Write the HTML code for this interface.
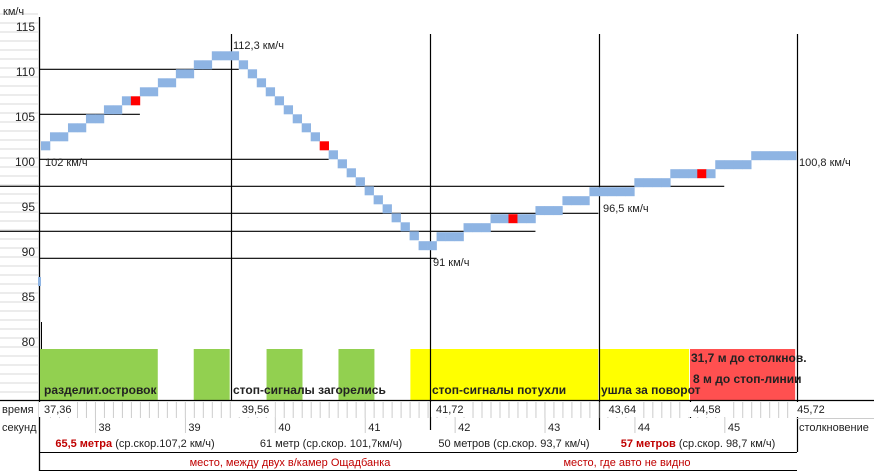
<!DOCTYPE html>
<html><head><meta charset="utf-8"><style>
body{margin:0;background:#fff}
svg{display:block;font-family:"Liberation Sans","DejaVu Sans",sans-serif}
</style></head><body>
<svg id="chart" width="874" height="471" viewBox="0 0 874 471" xmlns="http://www.w3.org/2000/svg">
<g id="grid"></g>
<g id="yaxis"></g>
<g id="bands"></g>
<g id="refs"></g>
<g id="bars"></g>
<g id="labels"></g>
<g id="table"></g>
</svg>
<script>
const yTicks=[115,110,105,100,95,90,85,80];
// speed per 0.1 s frame
const speeds=[101.8,102.8,102.8,103.8,103.8,104.8,104.8,105.8,105.8,106.8,106.8,107.8,107.8,108.8,108.8,109.8,109.8,110.8,110.8,111.8,111.8,111.8,
110.8,109.8,108.8,107.8,106.8,105.8,104.8,103.8,102.8,101.8,100.8,99.8,98.8,97.8,96.8,95.8,94.8,93.8,92.8,91.8,90.7,90.7,
91.7,91.7,91.7,92.7,92.7,92.7,93.7,93.7,93.7,93.7,93.7,94.6,94.6,94.6,95.7,95.7,95.7,96.7,96.7,96.7,96.7,96.7,97.7,97.7,97.7,97.7,
98.7,98.7,98.7,98.7,98.7,99.7,99.7,99.7,99.7,100.7,100.7,100.7,100.7,100.7];
const markerFrames=[10,31,52,73];
const refSpeeds=[110.8,105.8,100.8,97.8,94.8,92.8,89.8];
const refEndFrames=[22,11,32,76,62,55,44];
const keyTimes=["37,36","39,56","41,72","43,64","44,58","45,72"];
const keyFrames=[0,22,43.6,62.8,72.2,84];
const secLabels=["38","39","40","41","42","43","44","45"];
const secFrames=[6.4,16.4,26.4,36.4,46.4,56.4,66.4,76.4];
const bandStarts=[0,17.1,25.2,33.2,41.2,62.2,72.3];
const bandEnds=[13.1,21.1,29.2,37.2,62.1,72.2,84];
const bandColors=["#92d050","#92d050","#92d050","#92d050","#ffff00","#ffff00","#ff5050"];

const NS="http://www.w3.org/2000/svg";
const X0=41,FW=8.99;
const x=f=>X0+f*FW;
const y=v=>27+(115-v)*9;
function mk(parent,tag,attrs,text){const e=document.createElementNS(NS,tag);for(const k in attrs)e.setAttribute(k,attrs[k]);if(text!==undefined)e.textContent=text;document.getElementById(parent).appendChild(e);return e;}

// left gridlines
for(let gy=14;gy<400;gy+=9){const l=mk('grid','line',{x1:0,x2:38,y1:gy,y2:gy,stroke:'#d9d9d9','stroke-width':1});

}
let u=mk('yaxis','text',{x:3,y:15,'font-size':11,fill:'#222'},'км/ч');


yTicks.forEach(v=>{const t=mk('yaxis','text',{x:35,y:y(v)+4,'font-size':12,'text-anchor':'end',fill:'#222'},String(v));

});
mk('yaxis','line',{x1:39.5,x2:39.5,y1:17,y2:471,stroke:'#000','stroke-width':1.3});
mk('yaxis','line',{x1:41.5,x2:41.5,y1:322,y2:349,stroke:'#000','stroke-width':1});

// bands
bandStarts.forEach((s,i)=>{const r=mk('bands','rect',{x:x(s)-1,y:349,width:(bandEnds[i]-s)*FW,height:51,fill:bandColors[i]});

});
const bandText=[["разделит.островок",44,394],["стоп-сигналы загорелись",233,394],["стоп-сигналы потухли",432,394],["ушла за поворот",601,394],["31,7 м до столкнов.",691,362],["8 м до стоп-линии",693,383]];
bandText.forEach(b=>{const t=mk('bands','text',{x:b[1],y:b[2],'font-size':12,'font-weight':'bold',fill:'#222'},b[0]);

});

// vertical divider lines
[[231,34,400],[430,34,430],[599,34,430],[797,34,452],[690,400,418]].forEach(v=>{mk('refs','line',{x1:v[0]+.5,x2:v[0]+.5,y1:v[1],y2:v[2],stroke:'#000','stroke-width':1.2});});
// horizontal reference lines
refSpeeds.forEach((v,i)=>{const l=mk('refs','line',{x1:i===3||i===5?0:39,x2:x(refEndFrames[i]),y1:y(v)+4.5,y2:y(v)+4.5,stroke:'#000','stroke-width':1.2});

});

// bars
speeds.forEach((v,i)=>{const r=mk('bars','rect',{x:x(i),y:y(v)-4.5,width:FW+0.3,height:9,fill:markerFrames.includes(i)?'#ff0000':'#8eb4e3'});

});
mk('bars','rect',{x:38,y:277,width:3,height:9,fill:'#8eb4e3'});

// value labels
[["112,3 км/ч",233,49],["102 км/ч",45,166],["91 км/ч",433,266],["96,5 км/ч",603,212],["100,8 км/ч",799,166]].forEach(a=>{const t=mk('labels','text',{x:a[1],y:a[2],'font-size':11,fill:'#222'},a[0]);

});

// table
mk('table','line',{x1:0,x2:874,y1:400.5,y2:400.5,stroke:'#000','stroke-width':1.2});
mk('table','line',{x1:40,x2:797,y1:452.5,y2:452.5,stroke:'#000','stroke-width':1});
mk('table','line',{x1:40,x2:797,y1:470.5,y2:470.5,stroke:'#000','stroke-width':1});
mk('table','line',{x1:797,x2:874,y1:418.5,y2:418.5,stroke:'#ccc','stroke-width':1});
for(let f=1;f<84;f+=1){mk('table','line',{x1:x(f)+.5,x2:x(f)+.5,y1:402,y2:418,stroke:'#ccc','stroke-width':1});}
let t1=mk('table','text',{x:2,y:413,'font-size':11,fill:'#222'},'время');


let t2=mk('table','text',{x:2,y:431,'font-size':11,fill:'#222'},'секунд');


keyTimes.forEach((k,i)=>{const bg=mk('table','rect',{x:x(keyFrames[i])-2,y:402,width:38,height:15,fill:'#fff'});
const t=mk('table','text',{x:x(keyFrames[i])+(i===5?1:3),y:413,'font-size':11,fill:'#222'},k);

});
secLabels.forEach((s,i)=>{mk('table','line',{x1:x(secFrames[i])-3,x2:x(secFrames[i])-3,y1:418,y2:433,stroke:'#ccc'});
const t=mk('table','text',{x:x(secFrames[i]),y:431,'font-size':11,fill:'#222'},s);

});
let c=mk('table','text',{x:799,y:431,'font-size':11,fill:'#222'},'столкновение');


const segs=[["65,5 метра"," (ср.скор.107,2 км/ч)",135,true],["","61 метр (ср.скор. 101,7км/ч)",331,false],["","50 метров (ср.скор. 93,7 км/ч)",514,false],["57 метров"," (ср.скор. 98,7 км/ч)",698,true]];
segs.forEach(s=>{const t=mk('table','text',{x:s[2],y:447,'font-size':11,fill:'#222','text-anchor':'middle'});


if(s[0]){const a=document.createElementNS(NS,'tspan');a.setAttribute('fill','#c00000');a.setAttribute('font-weight','bold');a.textContent=s[0];t.appendChild(a);}
const b=document.createElementNS(NS,'tspan');b.textContent=s[1];t.appendChild(b);});
[["место, между двух в/камер Ощадбанка",290],["место, где авто не видно",627]].forEach(a=>{const t=mk('table','text',{x:a[1],y:466,'font-size':11,fill:'#c00000','text-anchor':'middle'},a[0]);

});
</script>
</body></html>
